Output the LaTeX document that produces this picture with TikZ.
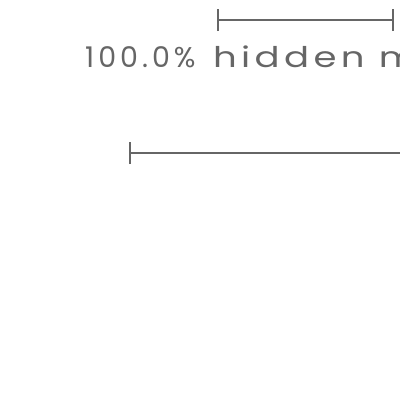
\documentclass[tikz,border=0pt]{standalone}
\usepackage{fontspec}
\setmainfont{Poppins}
\newfontfamily\numfont{Poppins}[LetterSpace=14]
\newfontfamily\wordfont{Poppins}[FakeStretch=1.3,LetterSpace=15.3]
\begin{document}
\begin{tikzpicture}[x=1pt,y=-1pt,
  bar/.style={draw=black!60,line width=1.6pt},
  lbl/.style={text=black!60,font=\fontsize{28.5}{30}\selectfont,inner sep=0pt,anchor=base west}]
\useasboundingbox (0,0) rectangle (400,400);
\begin{scope}
\clip (0,0) rectangle (400,400);
\coordinate (t1) at (218,20);
\coordinate (t2) at (393,20);
\draw[bar] (t1) -- (t2);
\draw[bar] ([yshift=-11pt]t1) -- ([yshift=11pt]t1);
\draw[bar] ([yshift=-11pt]t2) -- ([yshift=11pt]t2);
\node[lbl] (label) at (85,67) {{\numfont 100.0\% }\hspace{6pt}{\wordfont hidden me}};
\coordinate (b1) at (130,153);
\coordinate (b2) at (420,153);
\draw[bar,line width=2pt] (b1) -- (b2);
\draw[bar,line width=2pt] ([yshift=-11pt]b1) -- ([yshift=11pt]b1);
\end{scope}
\end{tikzpicture}
\end{document}
